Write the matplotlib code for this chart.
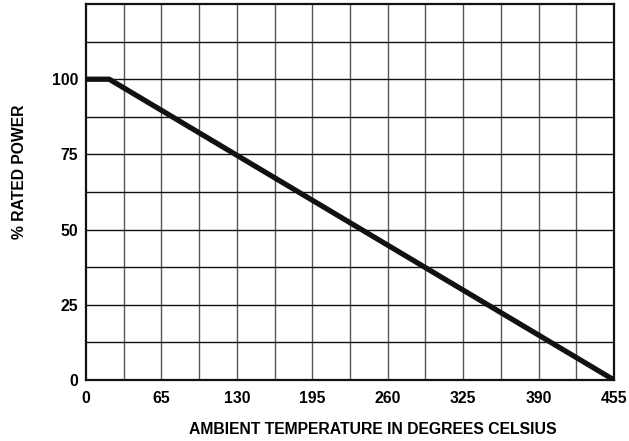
import numpy as np
import matplotlib.pyplot as plt

# derating curve: % rated power vs ambient temperature
temp_c = [0, 20, 455]
rated_power = [100, 100, 0]

x_ticks = [0, 65, 130, 195, 260, 325, 390, 455]
y_ticks = [0, 25, 50, 75, 100]

plt.rcParams['font.family'] = ['Liberation Sans', 'DejaVu Sans']
plt.rcParams['font.weight'] = 'bold'

fig = plt.figure(figsize=(6.29, 4.41), dpi=100)
ax = fig.add_axes([86 / 629, 1 - 380 / 441, 528 / 629, 376 / 441])

ax.set_xlim(0, 455)
ax.set_ylim(0, 125)

# grid every half tick
for x in np.arange(32.5, 455, 32.5):
    ax.axvline(x, color='#555555', lw=1.0, zorder=1)
for y in np.arange(12.5, 125, 12.5):
    ax.axhline(y, color='#111111', lw=1.0, zorder=1)

ax.plot(temp_c, rated_power, color='#111111', lw=3.8, solid_capstyle='butt', zorder=3)

ax.set_xticks(x_ticks)
ax.set_yticks(y_ticks)
ax.set_xticklabels([str(v) for v in x_ticks], fontsize=11.3, fontweight='bold')
ax.set_yticklabels([str(v) for v in y_ticks], fontsize=11.3, fontweight='bold')
ax.tick_params(axis='x', length=0, pad=8)
ax.tick_params(axis='y', length=0, pad=5.5)

for s in ax.spines.values():
    s.set_linewidth(1.6)
    s.set_color('#111111')

fig.text(373 / 629, 1 - 429 / 441, 'AMBIENT TEMPERATURE IN DEGREES CELSIUS',
         ha='center', va='center', fontsize=11.3, fontweight='bold')
fig.text(20 / 629, 1 - 172 / 441, '% RATED POWER', rotation=90,
         ha='center', va='center', fontsize=11.3, fontweight='bold')

fig.savefig('out.png', dpi=100)
